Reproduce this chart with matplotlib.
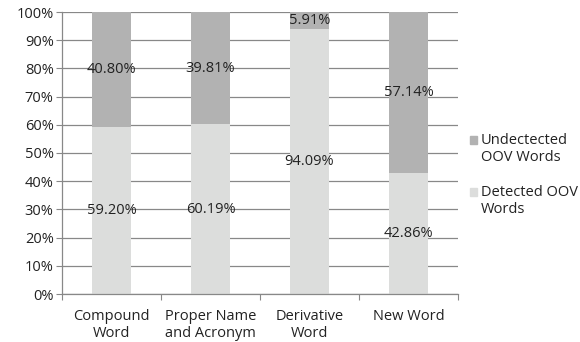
import numpy as np
import matplotlib
matplotlib.use("Agg")
import matplotlib.pyplot as plt
from matplotlib.patches import Rectangle
from matplotlib.ticker import PercentFormatter, FixedLocator

categorias = ["Compound\nWord", "Proper Name\nand Acronym", "Derivative\nWord", "New Word"]
detectadas = [59.20, 60.19, 94.09, 42.86]
no_detectadas = [40.80, 39.81, 5.91, 57.14]
series = ["Undectected\nOOV Words", "Detected OOV\nWords"]

plt.rcParams['font.family'] = ['Open Sans', 'DejaVu Sans']
gris_claro = "#dcdddc"
gris_oscuro = "#b2b2b2"
texto = "#222222"
tam = 10.5

fig = plt.figure(figsize=(5.8, 3.42), dpi=100)
ax = fig.add_axes([62/580, 1-294/342, 396/580, 282/342])

x = np.arange(len(categorias))
b1 = ax.bar(x, detectadas, width=0.4, color=gris_claro, zorder=2)
b2 = ax.bar(x, no_detectadas, width=0.4, bottom=detectadas, color=gris_oscuro, zorder=2)

for i in range(len(x)):
    ax.text(x[i], detectadas[i]/2, "%.2f%%" % detectadas[i], ha="center", va="center",
            fontsize=tam, color=texto, zorder=3)
    ax.text(x[i], detectadas[i] + no_detectadas[i]/2, "%.2f%%" % no_detectadas[i],
            ha="center", va="center", fontsize=tam, color=texto, zorder=3)

ax.set_xlim(-0.5, len(x)-0.5)
ax.set_ylim(0, 100)
ax.set_yticks(np.arange(0, 101, 10))
ax.yaxis.set_major_formatter(PercentFormatter(decimals=0))
ax.yaxis.grid(True, color="#888888", linewidth=0.9, zorder=0)

ax.xaxis.set_major_locator(FixedLocator(np.arange(-0.5, len(x), 1.0)))
ax.set_xticklabels([])
ax.set_xticks(x, minor=True)
ax.set_xticklabels(categorias, minor=True, fontsize=tam, color=texto, linespacing=1.15)
ax.tick_params(axis="x", which="minor", length=0, pad=11)
ax.tick_params(axis="x", which="major", length=4, color="#888888", direction="out")
ax.tick_params(axis="y", length=4, color="#888888", labelsize=tam, labelcolor=texto, pad=2)

for lado in ["top", "right"]:
    ax.spines[lado].set_visible(False)
for lado in ["left", "bottom"]:
    ax.spines[lado].set_color("#888888")
    ax.spines[lado].set_linewidth(0.9)

# leyenda a mano: el cuadro va alineado con la primera linea del texto
colores_leyenda = [gris_oscuro, gris_claro]
y_leyenda = [140, 192]
for etiqueta, color, yy in zip(series, colores_leyenda, y_leyenda):
    fig.patches.append(Rectangle((470/580, 1-(yy+4)/342), 7/580, 8/342,
                                 transform=fig.transFigure, color=color))
    fig.text(481/580, 1-(yy-7)/342, etiqueta, ha="left", va="top", fontsize=tam,
             color=texto, linespacing=1.15)

fig.savefig("out.png", dpi=100)
